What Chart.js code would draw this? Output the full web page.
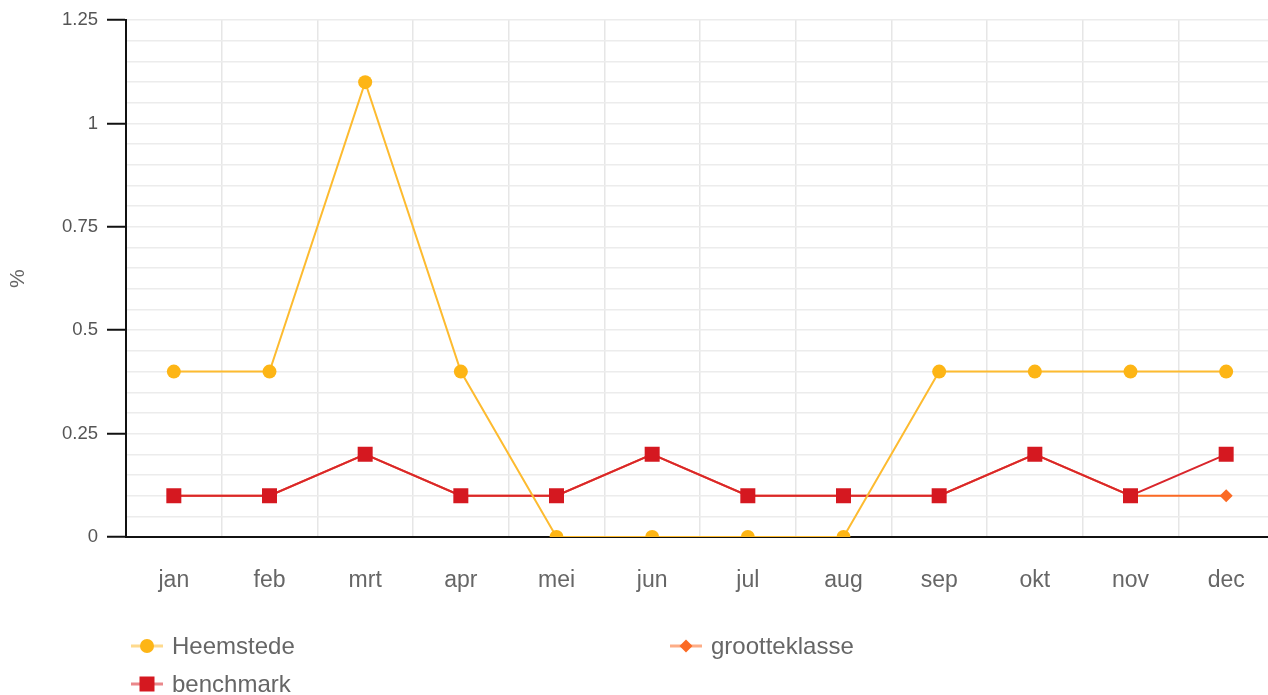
<!DOCTYPE html>
<html>
<head>
<meta charset="utf-8">
<script src="https://cdn.jsdelivr.net/npm/chart.js@4/dist/chart.umd.min.js"></script>
<style>
  html,body{margin:0;padding:0;background:#fff;overflow:hidden;}
  #wrap{position:relative;width:1268px;height:695px;overflow:hidden;}
  #c{display:block;}
</style>
</head>
<body>
<div id="wrap"><canvas id="c" width="1274" height="695"></canvas></div>
<script>
const months = ['jan','feb','mrt','apr','mei','jun','jul','aug','sep','okt','nov','dec'];
const heemstede = [0.4,0.4,1.1,0.4,0,0,0,0,0.4,0.4,0.4,0.4];
const benchmark = [0.1,0.1,0.2,0.1,0.1,0.2,0.1,0.1,0.1,0.2,0.1,0.2];
const grootteklasse = [0.1,0.1,0.2,0.1,0.1,0.2,0.1,0.1,0.1,0.2,0.1,0.1];
const yMajorTicks = [0,0.25,0.5,0.75,1,1.25];
const yAxisTitle = '%';

const FONT = "'Liberation Sans', Arial, sans-serif";
const isMajor = v => yMajorTicks.some(t => Math.abs(t - v) < 1e-6);

const legendPlugin = {
  id: 'customLegend',
  afterDraw(chart) {
    const ctx = chart.ctx;
    const slots = [[131,646],[131,684],[670,646]];
    const ds = chart.data.datasets;
    ctx.save();
    ds.forEach((d, i) => {
      const [x, y] = slots[i];
      ctx.globalAlpha = 0.55;
      ctx.strokeStyle = d.borderColor;
      ctx.lineWidth = 3;
      ctx.beginPath(); ctx.moveTo(x, y); ctx.lineTo(x + 32, y); ctx.stroke();
      ctx.globalAlpha = 1;
      ctx.fillStyle = d.pointBackgroundColor;
      const cx = x + 16;
      ctx.beginPath();
      if (d.pointStyle === 'circle') ctx.arc(cx, y, 7, 0, Math.PI*2);
      else if (d.pointStyle === 'rect') ctx.rect(cx - 7.5, y - 7.5, 15, 15);
      else { ctx.moveTo(cx, y-6.5); ctx.lineTo(cx+6.5, y); ctx.lineTo(cx, y+6.5); ctx.lineTo(cx-6.5, y); ctx.closePath(); }
      ctx.fill();
      ctx.fillStyle = '#666';
      ctx.font = "24px " + FONT;
      ctx.textBaseline = 'middle';
      ctx.textAlign = 'left';
      ctx.fillText(d.label, x + 41, y + 1);
    });
    ctx.restore();
  }
};

new Chart(document.getElementById('c'), {
  type: 'line',
  data: {
    labels: months,
    datasets: [
      { label: 'Heemstede', data: heemstede, order: 0,
        borderColor: '#fdbb30', backgroundColor: '#fdb515', pointBackgroundColor: '#fdb515',
        pointBorderColor: '#fdb515', borderWidth: 2, pointStyle: 'circle', pointRadius: 7, pointBorderWidth: 0, tension: 0 },
      { label: 'benchmark', data: benchmark, order: 1,
        borderColor: '#d9262c', backgroundColor: '#d51820', pointBackgroundColor: '#d51820',
        pointBorderColor: '#d51820', borderWidth: 2, pointStyle: 'rect', pointRadius: 10.6, pointBorderWidth: 0, tension: 0 },
      { label: 'grootteklasse', data: grootteklasse, order: 2,
        borderColor: '#fb6a24', backgroundColor: '#fb6a24', pointBackgroundColor: '#fb6a24',
        pointBorderColor: '#fb6a24', borderWidth: 2, pointStyle: 'rectRot', pointRadius: 6.5, pointBorderWidth: 0, tension: 0 }
    ]
  },
  plugins: [legendPlugin],
  options: {
    responsive: false,
    animation: false,
    layout: { autoPadding: false, padding: { left: 0, right: 0, top: 20, bottom: 88 } },
    plugins: { legend: { display: false }, tooltip: { enabled: false } },
    scales: {
      x: {
        offset: true,
        grid: { offset: true, color: '#e6e6e6', lineWidth: 1.5, drawTicks: false },
        border: { color: '#111', width: 2 },
        ticks: { color: '#666', font: { family: FONT, size: 23 }, padding: 30, maxRotation: 0 },
        afterFit(s) { s.height = 70; s.paddingLeft = 0; s.paddingRight = 0; }
      },
      y: {
        min: 0, max: 1.25,
        grid: { color: '#ececec', lineWidth: 1.5, tickLength: 19,
          tickColor: c => (c.tick && isMajor(c.tick.value)) ? '#111' : 'rgba(0,0,0,0)', tickWidth: 2 },
        border: { color: '#111', width: 2 },
        ticks: { stepSize: 0.05, autoSkip: false, color: '#555', padding: 9,
          font: { family: FONT, size: 18.5 },
          callback: v => isMajor(v) ? String(Math.round(v*100)/100) : '' },
        title: { display: true, text: yAxisTitle, color: '#666', font: { family: FONT, size: 21 }, padding: { top: 6, bottom: 0 } },
        afterFit(s) { s.width = 126; }
      }
    }
  }
});
</script>
</body>
</html>
